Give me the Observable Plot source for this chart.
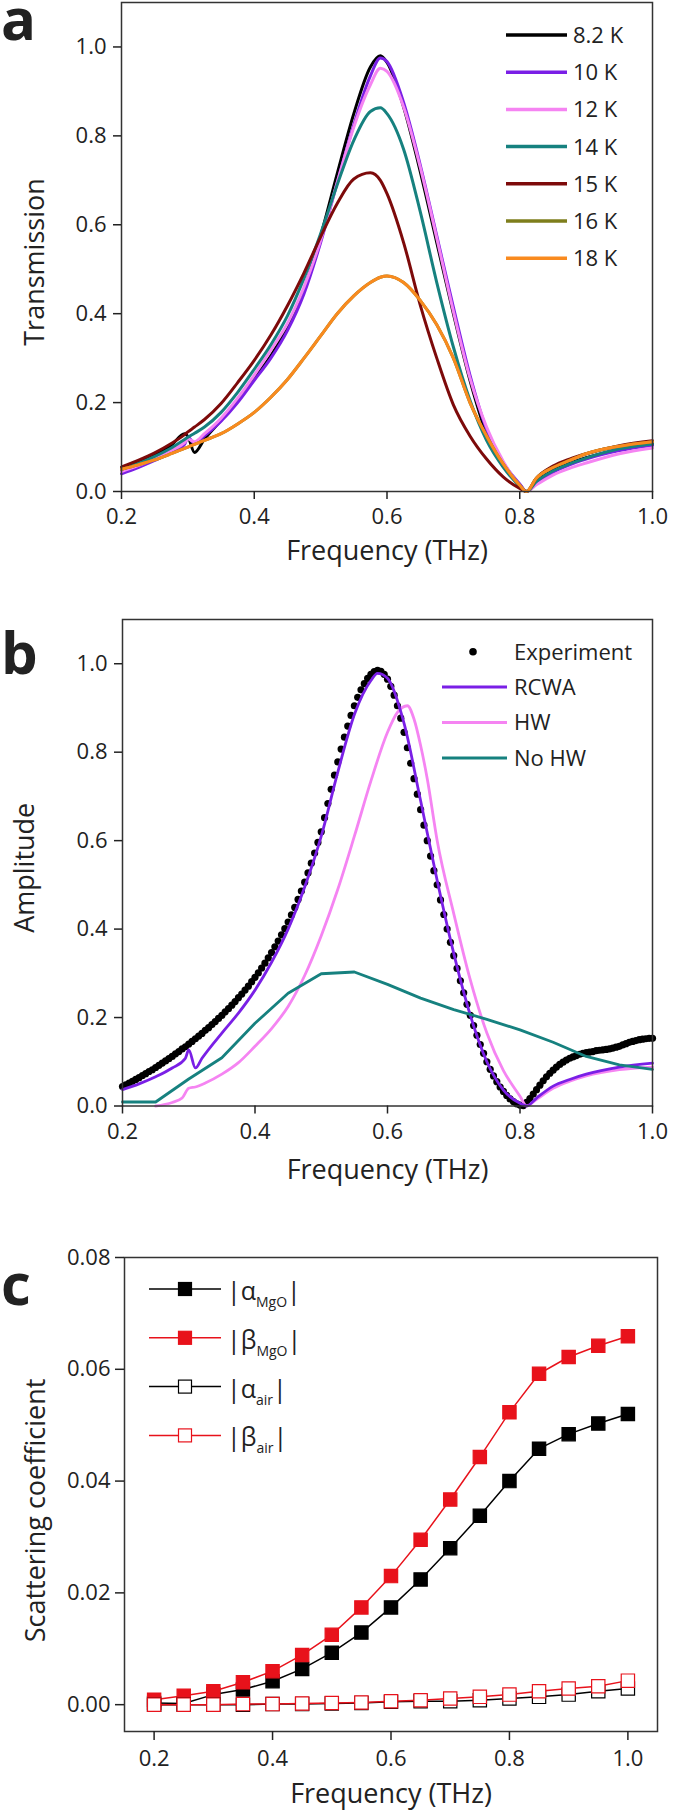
<!DOCTYPE html>
<html>
<head>
<meta charset="utf-8">
<script src="https://cdn.jsdelivr.net/npm/d3@7"></script>
<script src="https://cdn.jsdelivr.net/npm/@observablehq/plot@0.6"></script>
<style>
  body { margin: 0; background: #fff; }
  #wrap { position: relative; width: 675px; height: 1813px; overflow: hidden; background: #fff; font-family: "Open Sans", sans-serif; }
</style>
</head>
<body>
<div id="wrap"></div>
<script>
// ---------------- Panel a: Transmission vs frequency ----------------
const freqA = [0.2,0.225,0.25,0.275,0.295,0.3,0.31,0.325,0.35,0.375,0.4,0.425,0.45,0.475,0.5,0.525,0.55,0.575,0.59,0.6,0.625,0.65,0.675,0.7,0.725,0.75,0.775,0.8,0.81,0.825,0.85,0.875,0.9,0.95,1.0];
const tempLabels = ["8.2 K","10 K","12 K","14 K","15 K","16 K","18 K"];
const tempColors = ["#000000","#7a1fe6","#f584f2","#16817f","#7d0a0a","#7e7e1c","#f98a1f"];
const t8_2 = [.050,.066,.083,.104,.130,.124,.088,.118,.160,.205,.255,.305,.370,.455,.575,.715,.850,.955,.980,.965,.865,.720,.560,.400,.250,.130,.060,.015,0,.022,.047,.063,.076,.094,.106];
const t10  = [.040,.054,.070,.088,.106,.122,.108,.125,.158,.200,.250,.300,.362,.445,.560,.695,.825,.935,.975,.967,.875,.735,.575,.415,.262,.140,.065,.017,0,.018,.043,.060,.073,.092,.104];
const t12  = [.045,.058,.074,.092,.110,.118,.112,.130,.165,.210,.262,.318,.378,.460,.565,.695,.820,.915,.952,.945,.865,.730,.570,.405,.255,.145,.068,.014,0,.015,.037,.052,.064,.085,.098];
const t14  = [.050,.063,.079,.098,.117,.122,.131,.145,.178,.223,.275,.330,.395,.480,.580,.690,.790,.855,.863,.850,.770,.630,.470,.325,.205,.115,.055,.012,0,.022,.046,.062,.075,.096,.107];
const t15  = [.055,.070,.087,.108,.128,.134,.145,.162,.198,.245,.295,.352,.418,.492,.573,.648,.703,.717,.700,.670,.560,.420,.300,.195,.125,.073,.033,.007,0,.030,.057,.073,.085,.103,.114];
const t16  = [.050,.060,.071,.085,.097,.100,.106,.115,.130,.152,.178,.212,.252,.300,.350,.400,.440,.470,.482,.485,.470,.430,.375,.300,.200,.125,.062,.014,0,.030,.054,.070,.085,.102,.112];
const t18  = [.050,.060,.071,.085,.097,.100,.106,.115,.130,.152,.178,.212,.252,.300,.350,.400,.440,.470,.482,.485,.470,.430,.375,.300,.200,.125,.062,.014,0,.030,.054,.070,.085,.102,.112];
const tempSeries = [t8_2, t10, t12, t14, t15, t16, t18];

// ---------------- Panel b: Amplitude vs frequency ----------------
const expFreq = [
0.200,0.205,0.210,0.215,0.220,0.225,0.230,0.235,0.240,0.245,
0.250,0.255,0.260,0.265,0.270,0.275,0.280,0.285,0.290,0.295,
0.300,0.305,0.310,0.315,0.320,0.325,0.330,0.335,0.340,0.345,
0.350,0.355,0.360,0.365,0.370,0.375,0.380,0.385,0.390,0.395,
0.400,0.405,0.410,0.415,0.420,0.425,0.430,0.435,0.440,0.445,
0.450,0.455,0.460,0.465,0.470,0.475,0.480,0.485,0.490,0.495,
0.500,0.505,0.510,0.515,0.520,0.525,0.530,0.535,0.540,0.545,
0.550,0.555,0.560,0.565,0.570,0.575,0.580,0.585,0.590,0.595,
0.600,0.605,0.610,0.615,0.620,0.625,0.630,0.635,0.640,0.645,
0.650,0.655,0.660,0.665,0.670,0.675,0.680,0.685,0.690,0.695,
0.700,0.705,0.710,0.715,0.720,0.725,0.730,0.735,0.740,0.745,
0.750,0.755,0.760,0.765,0.770,0.775,0.780,0.785,0.790,0.795,
0.800,0.805,0.810,0.815,0.820,0.825,0.830,0.835,0.840,0.845,
0.850,0.855,0.860,0.865,0.870,0.875,0.880,0.885,0.890,0.895,
0.900,0.905,0.910,0.915,0.920,0.925,0.930,0.935,0.940,0.945,
0.950,0.955,0.960,0.965,0.970,0.975,0.980,0.985,0.990,0.995,
1.000];
const expVals = [
.044,.048,.052,.056,.060,.064,.069,.073,.078,.082,
.087,.092,.097,.102,.107,.112,.118,.123,.129,.134,
.140,.146,.152,.158,.164,.171,.177,.184,.191,.198,
.205,.213,.220,.228,.236,.245,.253,.262,.271,.281,
.291,.301,.312,.323,.335,.347,.360,.373,.387,.401,
.416,.432,.449,.467,.486,.506,.527,.549,.572,.596,
.620,.652,.684,.716,.748,.778,.807,.834,.859,.883,
.905,.924,.941,.955,.967,.976,.982,.985,.983,.976,
.965,.949,.929,.905,.877,.845,.810,.775,.740,.705,
.670,.635,.600,.565,.532,.500,.466,.433,.400,.370,
.340,.311,.283,.256,.230,.205,.182,.160,.139,.119,
.100,.083,.068,.055,.043,.033,.024,.016,.010,.005,
.002,.001,.008,.017,.027,.037,.047,.057,.066,.074,
.081,.088,.094,.099,.104,.108,.111,.114,.117,.119,
.121,.122,.123,.125,.126,.127,.128,.129,.131,.133,
.135,.138,.141,.144,.146,.148,.150,.151,.152,.153,
.153];
const rcwaFreq = [0.2,0.225,0.25,0.275,0.295,0.3,0.31,0.32,0.35,0.375,0.4,0.425,0.45,0.475,0.5,0.525,0.55,0.575,0.585,0.6,0.625,0.65,0.675,0.7,0.725,0.75,0.775,0.8,0.81,0.825,0.85,0.875,0.9,0.95,1.0];
const rcwaVals = [.037,.050,.066,.086,.108,.127,.086,.108,.165,.210,.262,.325,.400,.495,.610,.755,.885,.962,.978,.967,.865,.690,.510,.345,.205,.100,.036,.006,0,.018,.045,.060,.072,.088,.097];
const hwFreq = [0.25,0.275,0.29,0.3,0.31,0.325,0.35,0.375,0.4,0.425,0.45,0.475,0.5,0.525,0.55,0.575,0.6,0.615,0.63,0.64,0.65,0.66,0.675,0.7,0.725,0.75,0.775,0.8,0.81,0.825,0.85,0.875,0.9,0.95,1.0];
const hwVals = [0,.008,.018,.040,.043,.052,.072,.098,.135,.175,.225,.295,.385,.490,.610,.735,.845,.890,.905,.875,.815,.740,.600,.435,.285,.165,.080,.022,0,.015,.040,.056,.068,.082,.088];
const noHwFreq = [0.2,0.25,0.3,0.35,0.4,0.45,0.5,0.55,0.6,0.65,0.7,0.75,0.8,0.85,0.9,0.95,1.0];
const noHwVals = [.009,.009,.061,.109,.187,.255,.299,.303,.275,.244,.218,.196,.172,.144,.112,.093,.083];
const ampLabels = ["Experiment","RCWA","HW","No HW"];
const ampColors = ["#000000","#7a1fe6","#f584f2","#16817f"];

// ---------------- Panel c: Scattering coefficients ----------------
const freqC = [0.2,0.25,0.3,0.35,0.4,0.45,0.5,0.55,0.6,0.65,0.7,0.75,0.8,0.85,0.9,0.95,1.0];
const alphaMgO = [.0003,.0002,.0018,.0027,.0042,.0064,.0093,.0129,.0174,.0224,.0280,.0338,.0400,.0458,.0484,.0503,.0520];
const betaMgO  = [.0009,.0016,.0024,.0040,.0060,.0089,.0125,.0174,.0230,.0295,.0367,.0443,.0523,.0592,.0622,.0642,.0659];
const alphaAir = [0,0,0,0,.0001,.0001,.0002,.0003,.0005,.0006,.0006,.0008,.0011,.0014,.0018,.0024,.0029];
const betaAir  = [0,0,0,.0001,.0001,.0002,.0003,.0004,.0006,.0008,.0011,.0014,.0018,.0024,.0029,.0033,.0043];
const coefSymbols = ["α","β","α","β"];
const coefSubs = ["MgO","MgO","air","air"];
const coefColors = ["#000000","#e8121b","#000000","#e8121b"];
const coefFilled = [true,true,false,false];
const coefSeries = [alphaMgO, betaMgO, alphaAir, betaAir];

const xTicks = [0.2,0.4,0.6,0.8,1.0];
const yTicksAB = [0,0.2,0.4,0.6,0.8,1.0];
const yTicksC = [0,0.02,0.04,0.06,0.08];

// ---------------- build ----------------
const wrap = document.getElementById("wrap");
const FONT = '"Open Sans", sans-serif';
const ink = "#222";
const frameInk = "#333";
const baseStyle = {fontFamily: FONT, fontSize: "22px", color: ink, background: "transparent", overflow: "visible"};

function place(node, top) {
  node.style.position = "absolute";
  node.style.left = "0px";
  node.style.top = top + "px";
  wrap.appendChild(node);
}
function toRows(xs, ys) { return xs.map((x, i) => ({f: x, v: ys[i]})); }
function xTitle(t, dy) { return Plot.text([t], {frameAnchor: "bottom", lineAnchor: "middle", textAnchor: "middle", dy, fontSize: 27, fill: ink}); }
function yTitle(t, dx, dy) { return Plot.text([t], {frameAnchor: "left", lineAnchor: "middle", textAnchor: "middle", dx, dy, rotate: -90, fontSize: 27, fill: ink}); }

// Panel a
const plotA = Plot.plot({
  width: 675, height: 600,
  marginLeft: 121, marginRight: 23, marginTop: 2, marginBottom: 109,
  style: baseStyle,
  x: {domain: [0.2, 1.0]},
  y: {domain: [0, 1.1]},
  marks: [
    ...tempSeries.map((s, i) => Plot.line(toRows(freqA, s), {x: "f", y: "v", stroke: tempColors[i], strokeWidth: 3, curve: "monotone-x"})),
    Plot.frame({stroke: frameInk, strokeWidth: 1.5}),
    Plot.axisX({ticks: xTicks, tickFormat: ".1f", tickSize: 8, tickPadding: 9, strokeWidth: 1.5, label: null}),
    Plot.axisY({ticks: yTicksAB, tickFormat: ".1f", tickSize: 8, tickPadding: 7, strokeWidth: 1.5, label: null}),
    xTitle("Frequency (THz)", 60),
    yTitle("Transmission", -86, 15)
  ]
});
place(plotA, 0);

// Panel b
const plotB = Plot.plot({
  width: 675, height: 600,
  marginLeft: 122, marginRight: 23, marginTop: 19, marginBottom: 94.5,
  style: baseStyle,
  x: {domain: [0.2, 1.0]},
  y: {domain: [0, 1.1]},
  marks: [
    Plot.dot(toRows(expFreq, expVals), {x: "f", y: "v", r: 3.6, fill: ampColors[0], stroke: "none"}),
    Plot.line(toRows(hwFreq, hwVals), {x: "f", y: "v", stroke: ampColors[2], strokeWidth: 2.8, curve: "monotone-x"}),
    Plot.line(toRows(rcwaFreq, rcwaVals), {x: "f", y: "v", stroke: ampColors[1], strokeWidth: 2.8, curve: "monotone-x"}),
    Plot.line(toRows(noHwFreq, noHwVals), {x: "f", y: "v", stroke: ampColors[3], strokeWidth: 2.8}),
    Plot.frame({stroke: frameInk, strokeWidth: 1.5}),
    Plot.axisX({ticks: xTicks, tickFormat: ".1f", tickSize: 8, tickPadding: 9, strokeWidth: 1.5, label: null}),
    Plot.axisY({ticks: yTicksAB, tickFormat: ".1f", tickSize: 8, tickPadding: 7, strokeWidth: 1.5, label: null}),
    xTitle("Frequency (THz)", 64),
    yTitle("Amplitude", -97, 5)
  ]
});
place(plotB, 600);

// Panel c
const plotC = Plot.plot({
  width: 675, height: 613,
  marginLeft: 124, marginRight: 18, marginTop: 57, marginBottom: 82,
  style: baseStyle,
  x: {domain: [0.15, 1.05]},
  y: {domain: [-0.0048, 0.08]},
  marks: [
    ...coefSeries.flatMap((s, i) => [
      Plot.line(toRows(freqC, s), {x: "f", y: "v", stroke: coefColors[i], strokeWidth: 1.5}),
      Plot.dot(toRows(freqC, s), {x: "f", y: "v", symbol: "square", r: 7.5,
        fill: coefFilled[i] ? coefColors[i] : "white", stroke: coefColors[i], strokeWidth: 1.2})
    ]),
    Plot.frame({stroke: frameInk, strokeWidth: 1.5}),
    Plot.axisX({ticks: xTicks, tickFormat: ".1f", tickSize: 9, tickPadding: 10, strokeWidth: 1.5, label: null}),
    Plot.axisY({ticks: yTicksC, tickFormat: ".2f", tickSize: 9, tickPadding: 5, strokeWidth: 1.5, label: null}),
    xTitle("Frequency (THz)", 63),
    yTitle("Scattering coefficient", -88, 16)
  ]
});
place(plotC, 1200);

// ---------------- overlay: panel letters and legends ----------------
const ov = d3.create("svg").attr("width", 675).attr("height", 1813)
  .style("font-family", FONT).style("pointer-events", "none");
place(ov.node(), 0);

// panel letters
[["a", 40], ["b", 674], ["c", 1305]].forEach(([t, y]) => {
  ov.append("text").attr("x", 1).attr("y", y).attr("font-size", 58).attr("font-weight", 700)
    .attr("fill", "#222").text(t);
});

// legend a
tempLabels.forEach((lab, i) => {
  const y = 35 + i * 37.2;
  ov.append("line").attr("x1", 506).attr("x2", 567).attr("y1", y).attr("y2", y)
    .attr("stroke", tempColors[i]).attr("stroke-width", 3.5);
  ov.append("text").attr("x", 573).attr("y", y).attr("dy", "0.36em").attr("font-size", 22)
    .attr("fill", ink).text(lab);
});

// legend b
ampLabels.forEach((lab, i) => {
  const y = 651.7 + i * 35.4;
  if (i === 0) {
    ov.append("circle").attr("cx", 473).attr("cy", y).attr("r", 3.8).attr("fill", ampColors[0]);
  } else {
    ov.append("line").attr("x1", 442).attr("x2", 507).attr("y1", y).attr("y2", y)
      .attr("stroke", ampColors[i]).attr("stroke-width", 3);
  }
  ov.append("text").attr("x", 514).attr("y", y).attr("dy", "0.36em").attr("font-size", 22)
    .attr("fill", ink).text(lab);
});

// legend c
coefSymbols.forEach((sym, i) => {
  const y = 1289 + i * 48.8;
  ov.append("line").attr("x1", 149).attr("x2", 221).attr("y1", y).attr("y2", y)
    .attr("stroke", coefColors[i]).attr("stroke-width", 1.5);
  ov.append("rect").attr("x", 185 - 6.5).attr("y", y - 6.5).attr("width", 13).attr("height", 13)
    .attr("fill", coefFilled[i] ? coefColors[i] : "white").attr("stroke", coefColors[i]).attr("stroke-width", 1.2);
  const t = ov.append("text").attr("x", 227).attr("y", y + 11).attr("font-size", 25).attr("fill", ink);
  t.append("tspan").text("|" + sym);
  t.append("tspan").attr("font-size", 14).attr("dy", 7).text(coefSubs[i]);
  t.append("tspan").attr("dy", -7).text("|");
});
</script>
</body>
</html>
